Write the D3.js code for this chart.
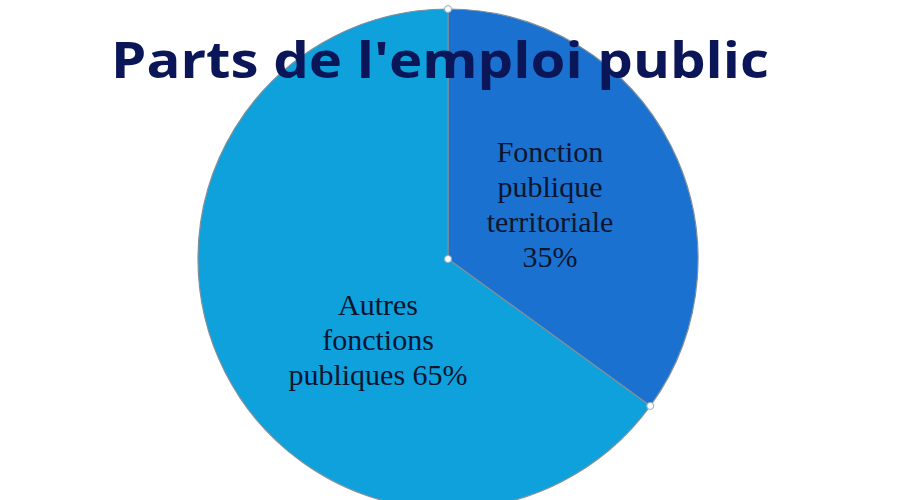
<!DOCTYPE html>
<html>
<head>
<meta charset="utf-8">
<script src="https://cdn.jsdelivr.net/npm/d3@7"></script>
<style>
  html, body { margin: 0; padding: 0; background: #fff; }
</style>
</head>
<body>
<script>
// chart data
var categories = ["Fonction publique territoriale", "Autres fonctions publiques"];
var shares = [35, 65];
var labelLines = [
    ["Fonction", "publique", "territoriale", "35%"],
    ["Autres", "fonctions", "publiques 65%"]
];
var colors = ["#1a71cf", "#0ea1dc"];

var width = 900, height = 500;
var cx = 448, cy = 259, radius = 250;

var svg = d3.select("body").append("svg")
    .attr("width", width)
    .attr("height", height);

var g = svg.append("g")
    .attr("transform", "translate(" + cx + "," + cy + ")");

var pie = d3.pie().sort(null).value(function(d) { return d; });
var arcs = pie(shares);
var arc = d3.arc().innerRadius(0).outerRadius(radius);

g.selectAll("path.slice")
    .data(arcs)
    .enter().append("path")
    .attr("class", "slice")
    .attr("d", arc)
    .style("fill", function(d, i) { return colors[i]; })
    .style("stroke", "#7f8f99")
    .style("stroke-width", 1.2);

// selection handles at the slice corners
var handles = [[0, 0]];
arcs.forEach(function(d) {
    handles.push([radius * Math.sin(d.startAngle), -radius * Math.cos(d.startAngle)]);
});
g.selectAll("circle.handle")
    .data(handles)
    .enter().append("circle")
    .attr("class", "handle")
    .attr("cx", function(d) { return d[0]; })
    .attr("cy", function(d) { return d[1]; })
    .attr("r", 3.5)
    .style("fill", "#ffffff")
    .style("stroke", "#8fb0c0")
    .style("stroke-width", 1);

// slice labels
var labelPos = [[102, -97], [-70, 56]];
var lineHeight = 35;
arcs.forEach(function(d, i) {
    var lines = labelLines[i];
    var t = g.append("text")
        .attr("text-anchor", "middle")
        .attr("x", labelPos[i][0])
        .attr("y", labelPos[i][1])
        .style("font-family", "'Liberation Serif', 'DejaVu Serif', serif")
        .style("font-size", "30px")
        .style("fill", "#0c1530");
    lines.forEach(function(line, j) {
        t.append("tspan")
            .attr("x", labelPos[i][0])
            .attr("dy", j === 0 ? 0 : lineHeight)
            .text(line);
    });
});

// title
svg.append("text")
    .attr("x", 440)
    .attr("y", 78)
    .attr("text-anchor", "middle")
    .attr("textLength", 658)
    .attr("lengthAdjust", "spacingAndGlyphs")
    .style("font-family", "'Open Sans', 'Noto Sans', sans-serif")
    .style("font-weight", "bold")
    .style("font-size", "50px")
    .style("fill", "#0b1658")
    .text("Parts de l'emploi public");
</script>
</body>
</html>
